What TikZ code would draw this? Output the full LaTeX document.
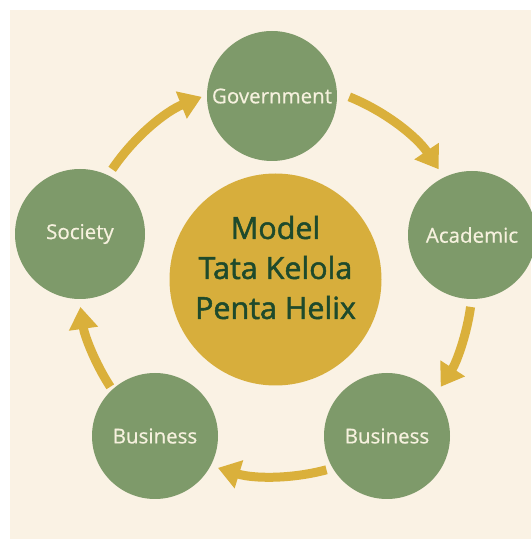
\documentclass[tikz,border=0pt]{standalone}
\usepackage{fontspec}
\setmainfont{Open Sans}
\newfontfamily\labelfont[FakeBold=0.6]{Open Sans}
\newfontfamily\hubfont[FakeBold=1.6]{Open Sans}
\usetikzlibrary{arrows.meta,calc}
\definecolor{cream}{HTML}{FAF2E4}
\definecolor{sage}{HTML}{7E9A6A}
\definecolor{goldc}{HTML}{D7AE3C}
\definecolor{goldarr}{HTML}{DAB03B}
\definecolor{darkg}{HTML}{1E4A2C}
\definecolor{lightt}{HTML}{F6F1DE}
\begin{document}
\begin{tikzpicture}[x=1pt,y=1pt,
  actor/.style={circle,fill=sage,minimum size=#1,inner sep=0pt,text=lightt,font=\labelfont\fontsize{20.5}{24}\selectfont},
  hub/.style={circle,fill=goldc,minimum size=212pt,inner sep=0pt},
  hubtext/.style={text=darkg,align=center,inner sep=0pt,font=\hubfont\fontsize{30.5}{40}\selectfont},
  flow/.style={draw=goldarr,line width=9pt,-{Triangle[width=28pt,length=22pt]}}]
\useasboundingbox (0,0) rectangle (531,539);
\fill[white] (0,0) rectangle (531,539);
\fill[cream] (10,0) rectangle (531,529);
\node[hub] (c) at (275.5,259.5) {};
\node[hubtext] (ctext) at ($(c)+(0,12)$) {Model\\Tata Kelola\\Penta Helix};
\node[actor=130pt] (gov) at (272,443) {Government};
\node[actor=128pt] (aca) at (472,304) {Academic};
\node[actor=130pt] (soc) at (80,305) {Society};
\node[actor=126pt] (bur) at (387,103) {Business};
\node[actor=126pt] (bul) at (155,103) {Business};
\coordinate (a1) at ($(c)+(146:197)$);
\coordinate (a2) at ($(c)+(68:197)$);
\coordinate (a3) at ($(c)+(-8:197)$);
\coordinate (a4) at ($(c)+(-75:197)$);
\coordinate (a5) at ($(c)+(213:197)$);
\draw[flow] (a1) arc[start angle=146,end angle=112,radius=197];
\draw[flow] (a2) arc[start angle=68,end angle=34,radius=197];
\draw[flow] (a3) arc[start angle=-8,end angle=-33,radius=197];
\draw[flow] (a4) arc[start angle=-75,end angle=-107,radius=197];
\draw[flow] (a5) arc[start angle=213,end angle=188,radius=197];
\end{tikzpicture}
\end{document}
